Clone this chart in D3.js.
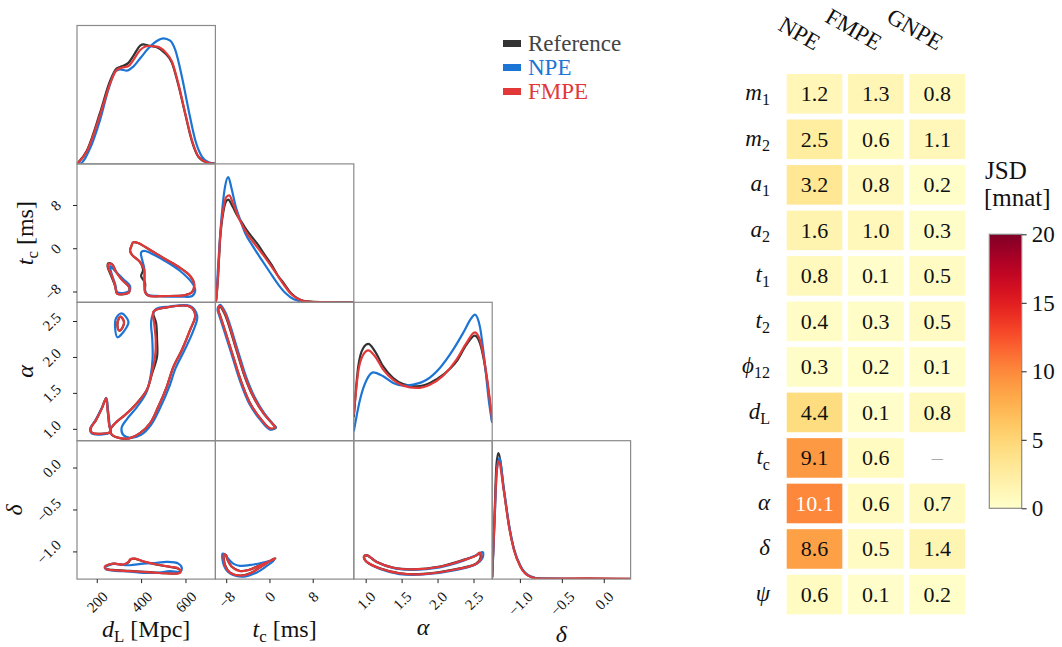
<!DOCTYPE html>
<html>
<head>
<meta charset="utf-8">
<script src="https://cdn.jsdelivr.net/npm/d3@7"></script>
<style>
  body { margin: 0; background: #fff; }
</style>
</head>
<body>
<div id="chart"></div>
<script>
// ---- corner plot data ----
const params = ["dL", "tc", "alpha", "delta"];
const dLTicks = [200, 400, 600];
const tcTicks = [-8, 0, 8];
const alphaTicks = [1.0, 1.5, 2.0, 2.5];
const deltaTicks = [-1.0, -0.5, 0.0];

// 1D marginals: [value, normalised density]
const dL1dRef = [[111,0],[155,0.095],[215,0.37],[260,0.6],[290,0.69],[313,0.705],[343,0.73],[365,0.78],[396,0.855],[410,0.864],[433,0.855],[471,0.843],[508,0.8],[539,0.73],[568,0.57],[599,0.36],[629,0.165],[659,0.05],[697,0.01],[735,0]];
const dL1dNpe = [[111,0],[125,0.002],[170,0.113],[215,0.318],[252,0.534],[283,0.666],[305,0.683],[335,0.674],[365,0.703],[396,0.763],[433,0.835],[471,0.888],[501,0.907],[531,0.89],[554,0.823],[584,0.63],[614,0.39],[644,0.173],[674,0.053],[704,0.012],[735,0.003]];
const dL1dFmpe = [[111,0],[155,0.09],[215,0.354],[260,0.58],[290,0.68],[313,0.695],[343,0.707],[365,0.75],[396,0.823],[433,0.852],[471,0.847],[508,0.81],[539,0.74],[568,0.58],[599,0.366],[629,0.173],[659,0.053],[697,0.012],[735,0]];

const tc1dRef = [[-10,0],[-9.9,0.01],[-9.5,0.19],[-9.17,0.43],[-8.5,0.66],[-8.0,0.73],[-7.63,0.742],[-6.8,0.69],[-6,0.63],[-5,0.57],[-4,0.51],[-3,0.46],[-2,0.41],[-1,0.35],[0.4,0.27],[1.6,0.19],[2.6,0.14],[4,0.065],[5.5,0.022],[7,0.006],[9.5,0.002],[15.6,0.001]];
const tc1dNpe = [[-10,0],[-9.9,0.01],[-9.5,0.26],[-8.85,0.62],[-8.24,0.83],[-7.63,0.905],[-7.0,0.82],[-6.3,0.7],[-5.45,0.6],[-4.5,0.5],[-3.0,0.4],[-1.5,0.31],[0.2,0.21],[1.6,0.13],[3.0,0.065],[4.5,0.022],[6.5,0.004],[9,0],[15.6,0]];
const tc1dFmpe = [[-10,0],[-9.9,0.01],[-9.5,0.2],[-9.17,0.45],[-8.5,0.68],[-8.0,0.76],[-7.44,0.773],[-6.8,0.72],[-6,0.64],[-5.45,0.59],[-4.5,0.52],[-3.5,0.46],[-2.5,0.41],[-1.5,0.36],[0,0.28],[1.4,0.2],[2.6,0.13],[4.0,0.06],[5.5,0.02],[7,0.005],[9.5,0.001],[15.6,0]];

const alpha1dRef = [[0.835,0.17],[0.897,0.537],[0.967,0.67],[1.036,0.699],[1.129,0.646],[1.244,0.537],[1.383,0.453],[1.522,0.41],[1.708,0.393],[1.893,0.417],[2.078,0.477],[2.264,0.573],[2.403,0.694],[2.518,0.759],[2.588,0.706],[2.681,0.465],[2.76,0.13]];
const alpha1dNpe = [[0.835,0.067],[0.921,0.296],[1.014,0.44],[1.106,0.494],[1.244,0.465],[1.383,0.417],[1.522,0.398],[1.661,0.405],[1.847,0.44],[2.032,0.526],[2.217,0.658],[2.356,0.779],[2.472,0.887],[2.518,0.911],[2.588,0.826],[2.657,0.562],[2.717,0.273],[2.76,0.13]];
const alpha1dFmpe = [[0.835,0.19],[0.897,0.5],[0.967,0.622],[1.036,0.653],[1.129,0.61],[1.244,0.513],[1.383,0.44],[1.522,0.398],[1.708,0.381],[1.893,0.405],[2.078,0.47],[2.264,0.586],[2.403,0.706],[2.518,0.783],[2.588,0.73],[2.681,0.477],[2.76,0.15]];

const delta1dRef = [[-1.33,0.015],[-1.301,0.48],[-1.28,0.82],[-1.257,0.911],[-1.19,0.64],[-1.131,0.39],[-1.071,0.215],[-0.992,0.09],[-0.873,0.017],[-0.754,0.003],[-0.4,0.001],[-0.2,0.004],[0.32,0.001]];
const delta1dNpe = [[-1.33,0.01],[-1.301,0.42],[-1.275,0.78],[-1.245,0.875],[-1.19,0.65],[-1.131,0.4],[-1.071,0.22],[-0.992,0.095],[-0.873,0.02],[-0.754,0.003],[0.32,0]];
const delta1dFmpe = [[-1.33,0.012],[-1.301,0.45],[-1.28,0.75],[-1.254,0.85],[-1.19,0.63],[-1.131,0.385],[-1.071,0.21],[-0.992,0.088],[-0.873,0.017],[-0.754,0.003],[-0.2,0.005],[0.32,0.001]];

// 2D contour loops: [x value, y value]
// dL vs tc
const dLtcRefA = [[251,-2.8],[269,-2.95],[287,-4.3],[314,-5.8],[346,-7.2],[346,-8.1],[323,-8.5],[292,-8.4],[283,-7.0],[265,-5.1],[249,-3.4]];
const dLtcRefB = [[355,0.24],[364,1.08],[386,0.98],[441,-0.32],[508,-1.98],[576,-3.65],[621,-5.14],[639,-6.62],[630,-8.1],[599,-8.66],[508,-8.84],[432,-8.75],[418,-8.1],[418,-6.43],[400,-5.14],[409,-4.02],[395,-2.54],[359,-1.24],[350,-0.32]];
const dLtcNpeA = [[260,-3.28],[287,-4.39],[319,-5.69],[350,-6.99],[346,-7.92],[319,-8.29],[292,-8.1],[283,-6.62],[269,-4.95]];
const dLtcNpeB = [[400,-0.78],[414,-0.5],[441,-0.87],[508,-2.35],[576,-4.21],[630,-6.43],[644,-7.73],[630,-8.84],[576,-8.94],[486,-8.84],[432,-8.66],[420,-8.1],[416,-6.43],[414,-3.65],[405,-2.17]];
const dLtcFmpeA = [[253,-2.91],[269,-3.0],[287,-4.39],[314,-5.88],[346,-7.18],[346,-8.1],[323,-8.47],[292,-8.38],[283,-6.99],[269,-5.14],[251,-3.47]];
const dLtcFmpeB = [[355,0.24],[364,1.08],[386,0.98],[441,-0.32],[508,-1.98],[576,-3.65],[621,-5.14],[639,-6.62],[630,-8.1],[599,-8.66],[508,-8.84],[432,-8.75],[418,-8.1],[414,-6.43],[414,-4.02],[395,-2.54],[359,-1.24],[350,-0.32]];

// dL vs alpha
const dLalphaRefA = [[242,1.424],[249,1.264],[256,1.056],[260,0.958],[215,0.931],[179,0.944],[172,1.0],[197,1.125],[224,1.292]];
const dLalphaRefB = [[456,2.629],[516,2.69],[621,2.699],[644,2.583],[621,2.375],[584,2.097],[546,1.865],[516,1.588],[478,1.31],[441,1.079],[395,0.94],[350,0.871],[305,0.871],[268,0.917],[262,0.99],[269,1.028],[283,1.079],[328,1.194],[381,1.357],[426,1.542],[450,1.774],[472,2.004],[472,2.236],[468,2.468]];
const dLalphaRefC = [[308,2.56],[323,2.49],[317,2.413],[302,2.365],[293,2.444],[298,2.524]];
const dLalphaNpeA = [[243,1.43],[251,1.26],[258,1.05],[261,0.95],[215,0.92],[177,0.935],[170,0.995],[196,1.13],[224,1.3]];
const dLalphaNpeB = [[448,2.542],[468,2.667],[531,2.701],[621,2.708],[653,2.569],[635,2.361],[594,2.083],[556,1.847],[525,1.569],[486,1.292],[445,1.056],[400,0.917],[350,0.875],[319,0.917],[312,1.014],[337,1.139],[382,1.306],[423,1.5],[443,1.736],[452,1.986],[450,2.264],[445,2.444]];
const dLalphaNpeC = [[313,2.606],[343,2.49],[332,2.399],[293,2.274],[283,2.399],[287,2.538]];
const dLalphaFmpeA = [[242,1.424],[249,1.264],[256,1.056],[260,0.958],[215,0.931],[179,0.944],[172,1.0],[197,1.125],[224,1.292]];
const dLalphaFmpeB = [[456,2.629],[516,2.69],[621,2.699],[644,2.583],[621,2.375],[584,2.097],[546,1.865],[516,1.588],[478,1.31],[441,1.079],[395,0.94],[350,0.871],[305,0.871],[268,0.917],[260,0.986],[283,1.079],[328,1.194],[381,1.357],[426,1.542],[448,1.774],[463,2.004],[466,2.236],[459,2.468]];
const dLalphaFmpeC = [[308,2.56],[323,2.49],[317,2.413],[302,2.365],[293,2.444],[298,2.524]];

// tc vs alpha
const tcalphaRef = [[-9.17,2.70],[-8.3,2.6],[-6.1,2.09],[-4.55,1.72],[-3.0,1.445],[-1.1,1.215],[0.8,1.05],[1.2,1.015],[0.2,1.0],[-1.7,1.145],[-3.55,1.352],[-5.1,1.63],[-6.7,2.0],[-8.25,2.37],[-9.15,2.58],[-9.45,2.655]];
const tcalphaNpe = [[-9.1,2.725],[-8.1,2.61],[-5.9,2.1],[-4.35,1.73],[-2.8,1.45],[-0.95,1.215],[0.85,1.05],[1.15,1.02],[0.1,0.99],[-1.8,1.135],[-3.7,1.345],[-5.25,1.625],[-6.85,2.0],[-8.4,2.37],[-9.3,2.58],[-9.6,2.665]];
const tcalphaFmpe = [[-9.17,2.71],[-8.24,2.607],[-6.06,2.097],[-4.52,1.726],[-2.98,1.449],[-1.12,1.218],[0.74,1.056],[1.06,1.024],[0.13,1.007],[-1.73,1.149],[-3.59,1.357],[-5.13,1.635],[-6.7,2.004],[-8.24,2.375],[-9.17,2.583],[-9.49,2.66]];

// dL vs delta
const dLdeltaRef = [[236,-1.185],[275,-1.145],[322,-1.16],[345,-1.125],[352,-1.096],[375,-1.088],[410,-1.12],[471,-1.158],[531,-1.185],[566,-1.205],[577,-1.24],[566,-1.26],[516,-1.26],[441,-1.248],[350,-1.232],[275,-1.22],[242,-1.21]];
const dLdeltaNpe = [[238,-1.19],[275,-1.15],[320,-1.16],[350,-1.165],[410,-1.145],[471,-1.135],[516,-1.125],[568,-1.145],[584,-1.203],[576,-1.242],[531,-1.235],[471,-1.255],[410,-1.255],[350,-1.24],[275,-1.228],[243,-1.215]];
const dLdeltaFmpe = [[237,-1.183],[275,-1.145],[320,-1.156],[343,-1.125],[350,-1.094],[373,-1.086],[410,-1.118],[471,-1.156],[531,-1.183],[568,-1.203],[579,-1.242],[568,-1.262],[516,-1.262],[441,-1.25],[350,-1.235],[275,-1.223],[242,-1.212]];

// tc vs delta
const tcdeltaRef = [[-8.4,-1.04],[-8.2,-1.163],[-7.3,-1.252],[-5.45,-1.287],[-3.6,-1.26],[-1.1,-1.163],[0.65,-1.093],[1.1,-1.084],[0.45,-1.105],[-1.75,-1.163],[-3.9,-1.222],[-5.45,-1.233],[-7.0,-1.18],[-7.8,-1.093],[-8.0,-1.047]];
const tcdeltaNpe = [[-8.67,-1.027],[-8.43,-1.165],[-7.31,-1.262],[-4.84,-1.301],[-2.34,-1.25],[-0.48,-1.172],[0.87,-1.106],[-0.19,-1.118],[-2.98,-1.156],[-5.45,-1.172],[-6.7,-1.145],[-7.63,-1.086],[-8.18,-1.039]];
const tcdeltaFmpe = [[-8.43,-1.039],[-8.24,-1.165],[-7.31,-1.254],[-5.45,-1.289],[-3.59,-1.262],[-1.12,-1.165],[0.63,-1.094],[1.06,-1.086],[0.45,-1.106],[-1.73,-1.165],[-3.91,-1.223],[-5.45,-1.235],[-6.99,-1.183],[-7.81,-1.094],[-8.05,-1.047]];

// alpha vs delta
const alphadeltaRef = [[0.975,-1.064],[1.012,-1.045],[1.15,-1.123],[1.38,-1.193],[1.66,-1.213],[2.03,-1.181],[2.35,-1.104],[2.535,-1.05],[2.58,-1.02],[2.6,-1.068],[2.535,-1.147],[2.26,-1.21],[1.8,-1.268],[1.476,-1.26],[1.199,-1.2],[1.014,-1.123]];
const alphadeltaNpe = [[0.98,-1.07],[1.02,-1.05],[1.16,-1.13],[1.39,-1.2],[1.66,-1.22],[2.03,-1.19],[2.36,-1.11],[2.55,-1.04],[2.63,-1.01],[2.625,-1.08],[2.54,-1.15],[2.26,-1.22],[1.8,-1.275],[1.47,-1.27],[1.2,-1.21],[1.02,-1.13]];
const alphadeltaFmpe = [[0.976,-1.066],[1.014,-1.047],[1.153,-1.125],[1.383,-1.195],[1.661,-1.215],[2.032,-1.183],[2.356,-1.106],[2.542,-1.047],[2.588,-1.015],[2.611,-1.066],[2.542,-1.145],[2.264,-1.212],[1.8,-1.27],[1.476,-1.262],[1.199,-1.203],[1.014,-1.125]];

// ---- JSD table data ----
const methodNames = ["NPE", "FMPE", "GNPE"];
const rowLabels = [["m","1"],["m","2"],["a","1"],["a","2"],["t","1"],["t","2"],["\u03d5","12"],["d","L"],["t","c"],["\u03b1",""],["\u03b4",""],["\u03c8",""]];
const jsdNPE  = [1.2, 2.5, 3.2, 1.6, 0.8, 0.4, 0.3, 4.4, 9.1, 10.1, 8.6, 0.6];
const jsdFMPE = [1.3, 0.6, 0.8, 1.0, 0.1, 0.3, 0.2, 0.1, 0.6, 0.6, 0.5, 0.1];
const jsdGNPE = [0.8, 1.1, 0.2, 0.3, 0.5, 0.5, 0.1, 0.8, null, 0.7, 1.4, 0.2];
const cbarTicks = [0, 5, 10, 15, 20];

// ---- drawing ----
const FONT = "Liberation Serif";
const svg = d3.select("#chart").append("svg").attr("width", 1062).attr("height", 647);
const defs = svg.append("defs");

const gx = 77, gy = 25.5, cs = 138.4;
const domains = { dL: [111, 735], tc: [-10.0, 15.6], alpha: [0.835, 2.76], delta: [-1.33, 0.32] };
const ticks = { dL: dLTicks, tc: tcTicks, alpha: alphaTicks, delta: deltaTicks };
const fmts = { dL: d3.format("d"), tc: d3.format("d"), alpha: d3.format(".1f"), delta: d3.format(".1f") };
const methods = ["ref", "npe", "fmpe"];
const colors = { ref: "#333333", npe: "#1c74d4", fmpe: "#e23838" };

const oneD = {
    dL: { ref: dL1dRef, npe: dL1dNpe, fmpe: dL1dFmpe },
    tc: { ref: tc1dRef, npe: tc1dNpe, fmpe: tc1dFmpe },
    alpha: { ref: alpha1dRef, npe: alpha1dNpe, fmpe: alpha1dFmpe },
    delta: { ref: delta1dRef, npe: delta1dNpe, fmpe: delta1dFmpe }
};
const twoD = {
    "1,0": { ref: [dLtcRefA, dLtcRefB], npe: [dLtcNpeA, dLtcNpeB], fmpe: [dLtcFmpeA, dLtcFmpeB] },
    "2,0": { ref: [dLalphaRefA, dLalphaRefB, dLalphaRefC], npe: [dLalphaNpeA, dLalphaNpeB, dLalphaNpeC], fmpe: [dLalphaFmpeA, dLalphaFmpeB, dLalphaFmpeC] },
    "2,1": { ref: [tcalphaRef], npe: [tcalphaNpe], fmpe: [tcalphaFmpe] },
    "3,0": { ref: [dLdeltaRef], npe: [dLdeltaNpe], fmpe: [dLdeltaFmpe] },
    "3,1": { ref: [tcdeltaRef], npe: [tcdeltaNpe], fmpe: [tcdeltaFmpe] },
    "3,2": { ref: [alphadeltaRef], npe: [alphadeltaNpe], fmpe: [alphadeltaFmpe] }
};

function xScale(i) {
    return d3.scaleLinear().domain(domains[params[i]]).range([gx + i * cs, gx + (i + 1) * cs]);
}
function yScale(j) {
    return d3.scaleLinear().domain(domains[params[j]]).range([gy + (j + 1) * cs, gy + j * cs]);
}

for (let r = 0; r < 4; r++) {
    for (let c = 0; c <= r; c++) {
        const x = xScale(c);
        const id = "clip" + r + c;
        defs.append("clipPath").attr("id", id).append("rect")
            .attr("x", gx + c * cs).attr("y", gy + r * cs).attr("width", cs).attr("height", cs);
        const g = svg.append("g").attr("clip-path", `url(#${id})`);

        if (r === c) {
            const y = d3.scaleLinear().domain([0, 1]).range([gy + (r + 1) * cs, gy + r * cs]);
            const line = d3.line().x(d => x(d[0])).y(d => y(d[1])).curve(d3.curveMonotoneX);
            methods.forEach(m => {
                g.append("path").datum(oneD[params[c]][m])
                    .attr("d", line).attr("fill", "none")
                    .attr("stroke", colors[m]).attr("stroke-width", 2.2);
            });
        } else {
            const y = yScale(r);
            const line = d3.line().x(d => x(d[0])).y(d => y(d[1])).curve(d3.curveCatmullRomClosed.alpha(0.5));
            methods.forEach(m => {
                twoD[r + "," + c][m].forEach(loop => {
                    g.append("path").datum(loop)
                        .attr("d", line).attr("fill", "none")
                        .attr("stroke", colors[m]).attr("stroke-width", 2.2)
                        .attr("stroke-linejoin", "round");
                });
            });
        }

        svg.append("rect")
            .attr("x", gx + c * cs).attr("y", gy + r * cs).attr("width", cs).attr("height", cs)
            .attr("fill", "none").attr("stroke", "#8a8a8a").attr("stroke-width", 1.2);
    }
}

// bottom axes
const tickFs = 15;
for (let c = 0; c < 4; c++) {
    const p = params[c];
    const g = svg.append("g").attr("transform", `translate(0,${gy + 4 * cs})`)
        .call(d3.axisBottom(xScale(c)).tickValues(ticks[p]).tickSize(4).tickFormat(fmts[p]));
    g.attr("font-family", FONT);
    g.select(".domain").remove();
    g.selectAll(".tick line").attr("stroke", "#222");
    g.selectAll(".tick text")
        .attr("fill", "#111").style("font-family", FONT).style("font-size", tickFs + "px")
        .attr("y", null).attr("dy", null).attr("text-anchor", "middle")
        .attr("transform", function() {
            const L = this.getComputedTextLength();
            return `translate(3.7,${18.5 + 0.354 * L}) rotate(-45)`;
        });
}
// left axes
for (let r = 1; r < 4; r++) {
    const p = params[r];
    const g = svg.append("g").attr("transform", `translate(${gx},0)`)
        .call(d3.axisLeft(yScale(r)).tickValues(ticks[p]).tickSize(4).tickFormat(fmts[p]));
    g.attr("font-family", FONT);
    g.select(".domain").remove();
    g.selectAll(".tick line").attr("stroke", "#222");
    g.selectAll(".tick text")
        .attr("fill", "#111").style("font-family", FONT).style("font-size", tickFs + "px")
        .attr("x", null).attr("dy", null).attr("text-anchor", "end")
        .attr("transform", function() {
            const L = this.getComputedTextLength();
            return `translate(-15,${-0.707 * (L / 2 - 0.35 * tickFs)}) rotate(-45)`;
        });
}

// math style labels: base (italic) + optional upright subscript + rest
function mathText(sel, base, sub, rest, fs) {
    sel.style("font-size", fs + "px").style("font-family", FONT);
    sel.append("tspan").style("font-style", "italic").text(base);
    if (sub) {
        sel.append("tspan").attr("dy", fs * 0.22).style("font-size", (fs * 0.7) + "px").text(sub);
    }
    if (rest) {
        sel.append("tspan").attr("dy", sub ? -fs * 0.22 : 0).text(rest);
    }
}

const axisTitles = [["d", "L", " [Mpc]"], ["t", "c", " [ms]"], ["\u03b1", "", ""], ["\u03b4", "", ""]];
const bottomBase = [637, 637, 635, 642];
axisTitles.forEach((t, i) => {
    const tx = svg.append("text").attr("x", gx + (i + 0.5) * cs).attr("y", bottomBase[i])
        .attr("text-anchor", "middle").attr("fill", "#111");
    mathText(tx, t[0], t[1], t[2], 24);
});
const leftBase = [0, 33, 33, 22];
for (let r = 1; r < 4; r++) {
    const t = axisTitles[r];
    const cy = gy + (r + 0.5) * cs;
    const tx = svg.append("text").attr("transform", `translate(${leftBase[r]},${cy}) rotate(-90)`)
        .attr("text-anchor", "middle").attr("fill", "#111");
    mathText(tx, t[0], t[1], t[2], 24);
}

// legend
const legendItems = [["Reference", "ref", "#444"], ["NPE", "npe", colors.npe], ["FMPE", "fmpe", colors.fmpe]];
legendItems.forEach((d, i) => {
    const cy = 43.5 + i * 24;
    svg.append("rect").attr("x", 503).attr("y", cy - 3.5).attr("width", 18).attr("height", 7)
        .attr("fill", colors[d[1]]);
    svg.append("text").attr("x", 528).attr("y", cy + 7.5)
        .style("font-family", FONT).style("font-size", "23px")
        .attr("fill", d[2]).text(d[0]);
});

// ---- JSD heatmap ----
const jsdCols = [jsdNPE, jsdFMPE, jsdGNPE];
const cells = [];
rowLabels.forEach((lab, i) => {
    methodNames.forEach((m, j) => cells.push({ row: i, col: m, v: jsdCols[j][i] }));
});

const hx = d3.scaleBand().domain(methodNames).range([786.7, 965]).paddingInner(0.093);
const hy = d3.scaleBand().domain(d3.range(rowLabels.length)).range([74, 614.3]).paddingInner(0.13);
const cmax = 20;
const cmap = v => d3.interpolateYlOrRd(v / cmax);

svg.append("g").selectAll("rect").data(cells.filter(d => d.v !== null)).enter().append("rect")
    .attr("x", d => hx(d.col)).attr("y", d => hy(d.row))
    .attr("width", hx.bandwidth()).attr("height", hy.bandwidth())
    .attr("fill", d => cmap(d.v));

svg.append("g").selectAll("text").data(cells).enter().append("text")
    .attr("x", d => hx(d.col) + hx.bandwidth() / 2)
    .attr("y", d => hy(d.row) + hy.bandwidth() / 2 + 7.5)
    .attr("text-anchor", "middle")
    .style("font-family", FONT).style("font-size", "22px")
    .attr("fill", d => d.v === null ? "#aaa" : (d.v >= 10 ? "#fff" : "#111"))
    .text(d => d.v === null ? "\u2013" : d.v.toFixed(1));

// row labels
rowLabels.forEach((lab, i) => {
    const tx = svg.append("text").attr("x", 770).attr("y", hy(i) + hy.bandwidth() / 2 + 6.5)
        .attr("text-anchor", "end").attr("fill", "#111");
    mathText(tx, lab[0], lab[1], "", 23);
});

// column headers
methodNames.forEach(m => {
    svg.append("text")
        .attr("transform", `translate(${hx(m) + hx.bandwidth() / 2},51) rotate(30)`)
        .attr("text-anchor", "end")
        .style("font-family", FONT).style("font-size", "23px")
        .attr("fill", "#111").text(m);
});

// colorbar
const cbx = 989.3, cbw = 32.4;
const cby = d3.scaleLinear().domain([0, cmax]).range([508.3, 234.3]);
const grad = defs.append("linearGradient").attr("id", "cbar")
    .attr("x1", 0).attr("y1", 1).attr("x2", 0).attr("y2", 0);
d3.range(0, 1.0001, 0.05).forEach(t => {
    grad.append("stop").attr("offset", t).attr("stop-color", d3.interpolateYlOrRd(t));
});
svg.append("rect").attr("x", cbx).attr("y", cby(cmax)).attr("width", cbw)
    .attr("height", cby(0) - cby(cmax)).attr("fill", "url(#cbar)")
    .attr("stroke", "#8a8a8a").attr("stroke-width", 1.2);
const cbAxis = svg.append("g").attr("transform", `translate(${cbx + cbw},0)`)
    .call(d3.axisRight(cby).tickValues(cbarTicks).tickSize(5).tickPadding(5));
cbAxis.attr("font-family", FONT);
cbAxis.select(".domain").remove();
cbAxis.selectAll(".tick line").attr("stroke", "#222");
cbAxis.selectAll(".tick text").style("font-size", "23px").attr("fill", "#111")
    .style("font-family", FONT);

svg.append("text").attr("x", 985).attr("y", 179)
    .style("font-family", FONT).style("font-size", "25px").attr("fill", "#111").text("JSD");
svg.append("text").attr("x", 984).attr("y", 206)
    .style("font-family", FONT).style("font-size", "25px").attr("fill", "#111").text("[mnat]");
</script>
</body>
</html>
